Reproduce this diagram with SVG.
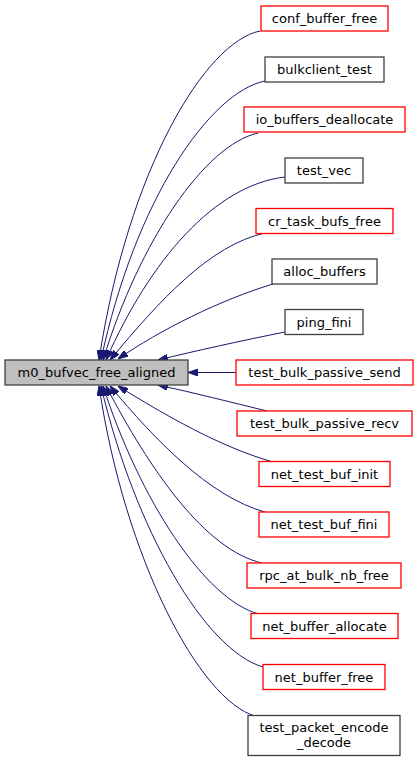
<svg xmlns="http://www.w3.org/2000/svg" width="419" height="762" viewBox="0 0 419 762">
<defs>
<marker id="ah" viewBox="0 0 10 7" refX="10" refY="3.5" markerWidth="10" markerHeight="7" markerUnits="userSpaceOnUse" orient="auto">
<path d="M0,0 L10,3.5 L0,7 z" fill="#191970" stroke="#191970" stroke-width="1"/>
</marker>
<style>
.n rect{fill:#ffffff;stroke-width:1.3}
.red rect{stroke:#ff0000}
.blk rect{stroke:#404040}
.main rect{fill:#bfbfbf;stroke:#404040;stroke-width:1.3}
text{font-family:"DejaVu Sans","Liberation Sans",sans-serif;font-size:13px;text-anchor:middle;fill:#000000}
.e path{fill:none;stroke:#191970;stroke-width:1;marker-end:url(#ah)}
</style>
</defs>
<rect width="419" height="762" fill="#ffffff"/>
<g id="edges" class="e">
<path d="M260,31 C205,42 128,170 99,360"/>
<path d="M265,81 C210,92 135,200 101,360"/>
<path d="M258,133 C205,145 140,240 103,360"/>
<path d="M285,177 C215,185 150,260 106,360"/>
<path d="M265,233 C210,245 160,300 110,360"/>
<path d="M273,284 C220,300 160,330 118,359"/>
<path d="M285,332 C240,341 195,351 158,360"/>
<path d="M236,372.5 L188,372.5"/>
<path d="M267,411 C230,402 195,393 158,385"/>
<path d="M273,462 C220,447 165,415 118,386"/>
<path d="M265,512 C210,497 155,440 110,386"/>
<path d="M262,563 C205,550 150,470 106,386"/>
<path d="M259,614 C205,600 140,500 103,386"/>
<path d="M263,667 C205,650 135,530 101,386"/>
<path d="M255,716 C200,700 125,560 99,386"/>
</g>
<g id="m0_bufvec_free_aligned" class="main"><rect x="5" y="360" width="183" height="25"/><text x="96.5" y="377">m0_bufvec_free_aligned</text></g>
<g id="conf_buffer_free" class="n red"><rect x="261" y="6" width="127" height="25"/><text x="324.5" y="23">conf_buffer_free</text></g>
<g id="bulkclient_test" class="n blk"><rect x="265" y="57" width="119" height="25"/><text x="324.5" y="74">bulkclient_test</text></g>
<g id="io_buffers_deallocate" class="n red"><rect x="244" y="107" width="161" height="25"/><text x="324.5" y="124">io_buffers_deallocate</text></g>
<g id="test_vec" class="n blk"><rect x="285" y="158" width="78" height="25"/><text x="324" y="175">test_vec</text></g>
<g id="cr_task_bufs_free" class="n red"><rect x="256" y="208.5" width="137" height="25"/><text x="324.5" y="225.5">cr_task_bufs_free</text></g>
<g id="alloc_buffers" class="n blk"><rect x="272" y="259" width="105" height="25"/><text x="324.5" y="276">alloc_buffers</text></g>
<g id="ping_fini" class="n blk"><rect x="285" y="309.5" width="78" height="25"/><text x="324" y="326.5">ping_fini</text></g>
<g id="test_bulk_passive_send" class="n red"><rect x="236" y="360" width="177" height="25"/><text x="324.5" y="377">test_bulk_passive_send</text></g>
<g id="test_bulk_passive_recv" class="n red"><rect x="237" y="411" width="175" height="25"/><text x="324.5" y="428">test_bulk_passive_recv</text></g>
<g id="net_test_buf_init" class="n red"><rect x="259" y="461.5" width="131" height="25"/><text x="324.5" y="478.5">net_test_buf_init</text></g>
<g id="net_test_buf_fini" class="n red"><rect x="259" y="512" width="130" height="25"/><text x="324" y="529">net_test_buf_fini</text></g>
<g id="rpc_at_bulk_nb_free" class="n red"><rect x="247" y="563" width="154" height="25"/><text x="324" y="580">rpc_at_bulk_nb_free</text></g>
<g id="net_buffer_allocate" class="n red"><rect x="251" y="613.5" width="147" height="25"/><text x="324.5" y="630.5">net_buffer_allocate</text></g>
<g id="net_buffer_free" class="n red"><rect x="263" y="664.5" width="122" height="25"/><text x="324" y="681.5">net_buffer_free</text></g>
<g id="test_packet_encode_decode" class="n blk"><rect x="248" y="715.5" width="152" height="40"/><text x="324" y="732">test_packet_encode</text><text x="324" y="747">_decode</text></g>
</svg>
